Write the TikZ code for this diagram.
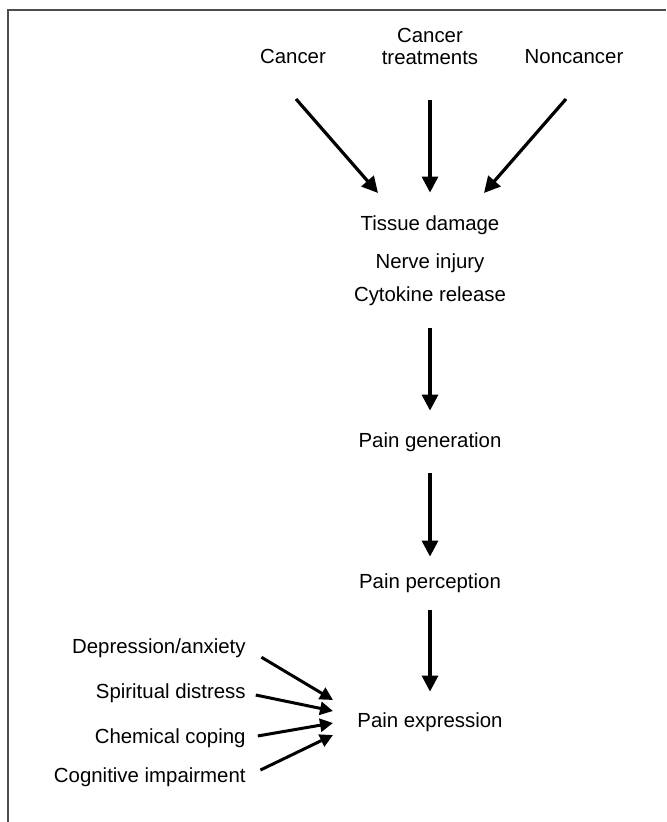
\documentclass[tikz,border=0pt]{standalone}
\usepackage{fontspec}
\setmainfont{Liberation Sans}
\usetikzlibrary{arrows.meta}

\begin{document}
\begin{tikzpicture}[x=0.5pt,y=-0.5pt,
 lbl/.style={inner sep=0pt,anchor=base,font=\fontsize{10.2}{11}\selectfont,text height=7pt,text depth=2pt},
 arr/.style={line width=1.6pt,-{Triangle[length=8pt,width=8pt]}},
 sarr/.style={line width=1.5pt,-{Triangle[length=6.5pt,width=6.5pt]}}]
 \useasboundingbox (0,0) rectangle (666,822);
 \draw[line width=1pt,black!70] (666,10)--(8,10)--(8,822); %枠
 % 上段
 \node[lbl] (cancer) at (293,64) {Cancer};
 \node[inner sep=0pt,anchor=north,align=center,font=\fontsize{10.2}{11}\selectfont] (treat) at (430,28) {Cancer\\treatments};
 \node[lbl] (noncancer) at (574,64) {Noncancer};
 \coordinate (cancerout) at (296,99); %矢印の始点
 \coordinate (nonout) at (566,99);
 \coordinate (tipL) at (378,193); %矢印の先
 \coordinate (tipR) at (484,193);
 % 中央の列
 \node[lbl] (tissue) at (430,231) {Tissue damage};
 \node[lbl] (nerve) at (430,269) {Nerve injury};
 \node[lbl] (cytokine) at (430,302) {Cytokine release};
 \node[lbl] (generation) at (430,447) {Pain generation};
 \node[lbl] (perception) at (430,588) {Pain perception};
 \node[lbl] (expression) at (430,727) {Pain expression};
 % 左側
 \node[lbl,anchor=base east] (depression) at (246,653) {Depression/anxiety};
 \node[lbl,anchor=base east] (spiritual) at (246,698) {Spiritual distress};
 \node[lbl,anchor=base east] (chemical) at (246,743) {Chemical coping};
 \node[lbl,anchor=base east] (cognitive) at (246,782) {Cognitive impairment};
 \coordinate (t1) at (333,700);
 \coordinate (t2) at (333,711);
 \coordinate (t3) at (333,723);
 \coordinate (t4) at (333,735);
 % 矢印
 \draw[arr] (cancerout)--(tipL);
 \draw[arr,shorten <=17.5pt,shorten >=12pt] (treat)--(tissue);
 \draw[arr] (nonout)--(tipR);
 \draw[arr,shorten <=11pt,shorten >=11pt] (cytokine)--(generation);
 \draw[arr,shorten <=11pt,shorten >=8.5pt] (generation)--(perception);
 \draw[arr,shorten <=9pt,shorten >=10.5pt] (perception)--(expression);
 \draw[sarr,shorten <=9pt] (depression.east)--(t1);
 \draw[sarr,shorten <=5pt] (spiritual.east)--(t2);
 \draw[sarr,shorten <=6pt] (chemical.east)--(t3);
 \draw[sarr,shorten <=8pt] (cognitive.east)--(t4);
\end{tikzpicture}
\end{document}
